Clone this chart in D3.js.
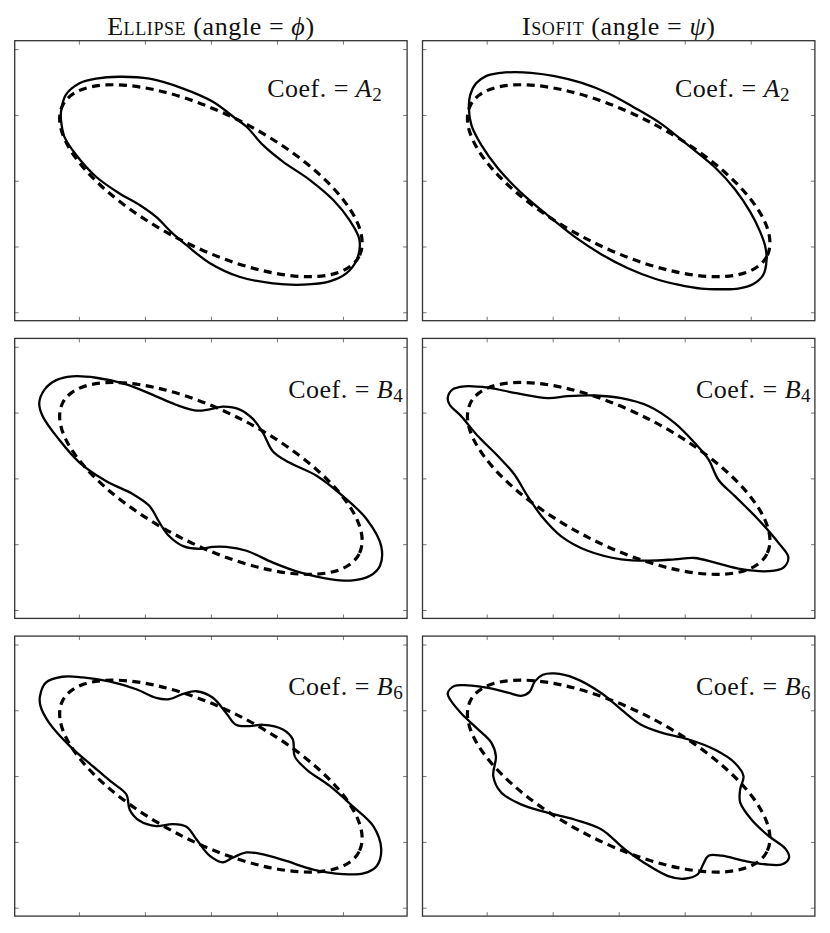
<!DOCTYPE html>
<html>
<head>
<meta charset="utf-8">
<script src="https://cdn.jsdelivr.net/npm/d3@7"></script>
<style>
  body { margin: 0; background: #fff; }
  svg { display: block; font-family: "Liberation Serif", "DejaVu Serif", serif; }
</style>
</head>
<body>
<div id="chart"></div>
<script>
// column headers
const titleNames = ["Ellipse", "Isofit"];
const titleAngles = ["ϕ", "ψ"];

// perturbation coefficient shown in each row
const coefNames = ["A", "B", "B"];
const coefOrders = ["2", "4", "6"];

// tick positions (axis units, no labels)
const xTicks = [-2, -1, 0, 1, 2];
const yTicks = [-2, -1, 0, 1, 2];

// reference ellipse (dashed) : semi-axes and position angle in degrees
const ellipseAxes = [2.52, 1.01];
const ellipseAngle = -27;

// perturbed isophotes (solid), [x, y]
const ellipseA2 = [
  [-2.27, 1.05], [-2.2, 1.3], [-1.99, 1.48], [-1.74, 1.55], [-1.39, 1.58],
  [-0.93, 1.55], [-0.42, 1.4], [0.03, 1.2], [0.33, 0.98], [0.54, 0.82],
  [0.79, 0.54], [1.09, 0.29], [1.5, 0.01], [1.85, -0.29], [2.1, -0.6],
  [2.25, -0.9], [2.21, -1.2], [2.05, -1.41], [1.8, -1.53], [1.4, -1.58],
  [0.94, -1.56], [0.43, -1.46], [-0.02, -1.25], [-0.37, -0.98], [-0.58, -0.8],
  [-0.83, -0.55], [-1.08, -0.37], [-1.39, -0.19], [-1.74, 0.06], [-2.04, 0.39],
  [-2.22, 0.67], [-2.27, 0.92]
];
const isofitA2 = [
  [-2.27, 1.1], [-2.25, 1.3], [-2.16, 1.48], [-2.01, 1.59], [-1.78, 1.64],
  [-1.58, 1.65], [-1.33, 1.64], [-0.97, 1.59], [-0.57, 1.49], [-0.16, 1.33],
  [0.24, 1.11], [0.65, 0.86], [1.05, 0.54], [1.46, 0.2], [1.76, -0.13],
  [1.99, -0.47], [2.14, -0.77], [2.22, -1.0], [2.24, -1.2], [2.19, -1.43],
  [2.04, -1.57], [1.81, -1.64], [1.56, -1.65], [1.25, -1.64], [0.9, -1.58],
  [0.55, -1.49], [0.14, -1.33], [-0.26, -1.12], [-0.67, -0.85], [-1.07, -0.53],
  [-1.48, -0.18], [-1.83, 0.19], [-2.08, 0.54], [-2.23, 0.84]
];
const ellipseB4 = [
  [-2.6, 1.15], [-2.52, 1.35], [-2.35, 1.49], [-2.1, 1.55], [-1.74, 1.53],
  [-1.28, 1.43], [-0.88, 1.27], [-0.53, 1.12], [-0.22, 1.03], [-0.02, 1.05],
  [0.18, 1.09], [0.43, 1.05], [0.64, 0.9], [0.79, 0.69], [0.94, 0.41],
  [1.19, 0.24], [1.6, 0.04], [2.0, -0.27], [2.36, -0.62], [2.58, -1.03],
  [2.56, -1.33], [2.41, -1.48], [2.15, -1.55], [1.8, -1.53], [1.35, -1.43],
  [0.94, -1.28], [0.54, -1.1], [0.23, -1.04], [0.03, -1.04], [-0.17, -1.07],
  [-0.42, -1.03], [-0.63, -0.88], [-0.78, -0.67], [-0.93, -0.42], [-1.18, -0.24],
  [-1.59, -0.04], [-1.99, 0.24], [-2.3, 0.59], [-2.55, 0.95]
];
const isofitB4 = [
  [-2.59, 1.22], [-2.52, 1.35], [-2.34, 1.4], [-1.98, 1.38], [-1.58, 1.3],
  [-1.07, 1.22], [-0.77, 1.25], [-0.36, 1.26], [0.04, 1.22], [0.45, 1.1],
  [0.85, 0.84], [1.15, 0.54], [1.36, 0.29], [1.51, -0.02], [1.76, -0.27],
  [2.11, -0.62], [2.42, -0.98], [2.57, -1.2], [2.49, -1.36], [2.27, -1.41],
  [1.86, -1.38], [1.46, -1.28], [1.15, -1.21], [0.85, -1.23], [0.45, -1.25],
  [0.04, -1.23], [-0.47, -1.1], [-0.87, -0.88], [-1.17, -0.57], [-1.38, -0.27],
  [-1.58, 0.06], [-1.83, 0.34], [-2.13, 0.64], [-2.39, 0.95], [-2.56, 1.12]
];
const ellipseB6 = [
  [-2.59, 1.21], [-2.5, 1.42], [-2.25, 1.51], [-1.94, 1.5], [-1.54, 1.44],
  [-1.13, 1.32], [-0.83, 1.19], [-0.63, 1.17], [-0.42, 1.25], [-0.22, 1.29],
  [0.03, 1.19], [0.23, 0.96], [0.38, 0.78], [0.59, 0.76], [0.79, 0.78],
  [1.09, 0.71], [1.24, 0.56], [1.27, 0.3], [1.45, 0.1], [1.8, -0.15],
  [2.15, -0.46], [2.46, -0.76], [2.58, -1.11], [2.51, -1.37], [2.31, -1.48],
  [2.0, -1.49], [1.55, -1.42], [1.14, -1.29], [0.79, -1.19], [0.54, -1.16],
  [0.33, -1.24], [0.18, -1.31], [-0.02, -1.21], [-0.22, -0.96], [-0.37, -0.77],
  [-0.58, -0.73], [-0.83, -0.76], [-1.08, -0.68], [-1.23, -0.51], [-1.28, -0.28],
  [-1.49, -0.1], [-1.79, 0.15], [-2.14, 0.46], [-2.45, 0.81], [-2.58, 1.06]
];
const isofitB6 = [
  [-2.59, 1.26], [-2.49, 1.37], [-2.29, 1.38], [-1.98, 1.34], [-1.68, 1.27],
  [-1.48, 1.22], [-1.35, 1.28], [-1.27, 1.44], [-1.15, 1.54], [-0.97, 1.56],
  [-0.67, 1.49], [-0.26, 1.26], [0.04, 1.01], [0.34, 0.78], [0.65, 0.66],
  [1.05, 0.56], [1.46, 0.4], [1.76, 0.2], [1.89, 0.0], [1.84, -0.2],
  [1.84, -0.4], [2.01, -0.66], [2.27, -0.91], [2.53, -1.11], [2.58, -1.24],
  [2.48, -1.34], [2.22, -1.34], [1.91, -1.29], [1.56, -1.21], [1.36, -1.21],
  [1.28, -1.34], [1.2, -1.49], [0.99, -1.56], [0.75, -1.52], [0.39, -1.32],
  [0.09, -1.11], [-0.26, -0.81], [-0.67, -0.66], [-1.07, -0.56], [-1.48, -0.43],
  [-1.78, -0.25], [-1.9, 0.0], [-1.86, 0.3], [-1.93, 0.51], [-2.13, 0.71],
  [-2.39, 0.96], [-2.55, 1.16]
];

const curves = [
  [ellipseA2, isofitA2],
  [ellipseB4, isofitB4],
  [ellipseB6, isofitB6],
];

// layout
const width = 830;
const height = 933;
const panelW = 392.4;
const panelH = 280;
const colX = [14.7, 422.5];
const rowY = [40.7, 338.4, 636.1];
const labelX = [310, 331, 331]; // centre of the "Coef." label, per row
const labelY = [56, 59.3, 59.3]; // baseline, per row

const x = d3.scaleLinear([-2.972, 2.972], [0, panelW]);
const y = d3.scaleLinear([-2.128, 2.128], [panelH, 0]);

const line = d3
  .line()
  .x((d) => x(d[0]))
  .y((d) => y(d[1]))
  .curve(d3.curveCatmullRomClosed.alpha(0.5));

const svg = d3
  .select("#chart")
  .append("svg")
  .attr("width", width)
  .attr("height", height)
  .attr("viewBox", [0, 0, width, height]);

svg.append("rect").attr("width", width).attr("height", height).attr("fill", "#fff");

// column titles
titleNames.forEach((name, c) => {
  const t = svg
    .append("text")
    .attr("x", colX[c] + panelW / 2)
    .attr("y", rowY[0] - 6.2)
    .attr("text-anchor", "middle")
    .attr("font-size", 26)
    .attr("letter-spacing", 0.6)
    .attr("fill", "#111");
  t.append("tspan").text(name[0]);
  t.append("tspan").style("font-variant", "small-caps").text(name.slice(1));
  t.append("tspan").text(" (angle = ");
  t.append("tspan").attr("font-style", "italic").text(titleAngles[c]);
  t.append("tspan").text(")");
});

function ticks(g) {
  g.select(".domain").remove();
  g.selectAll(".tick line").attr("stroke", "#777").attr("stroke-width", 1);
}

curves.forEach((row, r) => {
  row.forEach((points, c) => {
    const g = svg
      .append("g")
      .attr("transform", `translate(${colX[c]},${rowY[r]})`);

    g.append("g")
      .attr("transform", `translate(0,${panelH})`)
      .call(d3.axisBottom(x).tickValues(xTicks).tickSize(-4).tickFormat(""))
      .call(ticks);
    g.append("g")
      .call(d3.axisTop(x).tickValues(xTicks).tickSize(-4).tickFormat(""))
      .call(ticks);
    g.append("g")
      .call(d3.axisLeft(y).tickValues(yTicks).tickSize(-4).tickFormat(""))
      .call(ticks);
    g.append("g")
      .attr("transform", `translate(${panelW},0)`)
      .call(d3.axisRight(y).tickValues(yTicks).tickSize(-4).tickFormat(""))
      .call(ticks);

    // solid: perturbed isophote
    g.append("path")
      .attr("d", line(points))
      .attr("fill", "none")
      .attr("stroke", "#000")
      .attr("stroke-width", 2.3);

    // dashed: reference ellipse
    g.append("ellipse")
      .attr("cx", x(0))
      .attr("cy", y(0))
      .attr("rx", x(ellipseAxes[0]) - x(0))
      .attr("ry", y(0) - y(ellipseAxes[1]))
      .attr("transform", `rotate(${-ellipseAngle},${x(0)},${y(0)})`)
      .attr("fill", "none")
      .attr("stroke", "#000")
      .attr("stroke-width", 3.2)
      .attr("stroke-dasharray", "8,5.5");

    g.append("rect")
      .attr("width", panelW)
      .attr("height", panelH)
      .attr("fill", "none")
      .attr("stroke", "#333")
      .attr("stroke-width", 1.3);

    const label = g
      .append("text")
      .attr("x", labelX[r])
      .attr("y", labelY[r])
      .attr("text-anchor", "middle")
      .attr("font-size", 26)
      .attr("letter-spacing", 0.5)
      .attr("fill", "#111");
    label.append("tspan").text("Coef. = ");
    label.append("tspan").attr("font-style", "italic").text(coefNames[r]);
    label
      .append("tspan")
      .attr("font-size", 19)
      .attr("dy", 4)
      .text(coefOrders[r]);
  });
});
</script>
</body>
</html>
